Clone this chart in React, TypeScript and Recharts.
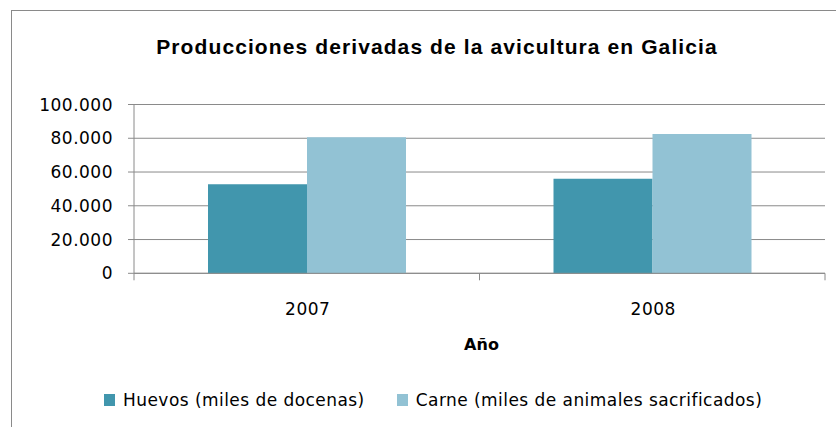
import { BarChart, Bar, XAxis, YAxis, CartesianGrid, Legend } from 'recharts';

const years = ['2007', '2008'];
const huevos = [52700, 56000];
const carne = [80600, 82500];
const yTicks = [0, 20000, 40000, 60000, 80000, 100000];
const seriesNames = ['Huevos (miles de docenas)', 'Carne (miles de animales sacrificados)'];

const data = years.map((year, i) => ({ year, huevos: huevos[i], carne: carne[i] }));

const W = 836;
const H = 427;
const M = { top: 104.5, right: 11, bottom: 73.7, left: 0 };
const Y_W = 134;
const BAND = (W - M.left - M.right - Y_W) / years.length;
const FONT = '"DejaVu Sans", sans-serif';
const AXIS = '#8a8a8a';

const fmt = (v: number) => String(v).replace(/\B(?=(\d{3})+(?!\d))/g, '.');

const XTick = (props: any) => {
  const { x, y, payload, index } = props;
  const half = BAND / 2;
  return (
    <g>
      {index === 0 && <line x1={x - half} x2={x - half} y1={y} y2={y + 7} stroke={AXIS} />}
      <line x1={x + half} x2={x + half} y1={y} y2={y + 7} stroke={AXIS} />
      <text x={x + 1} y={y + 42} textAnchor="middle" fill="#000" fontSize={17} fontFamily={FONT} letterSpacing={0.5}>
        {payload.value}
      </text>
    </g>
  );
};

const renderLegend = (props: any) => {
  const items = [...(props.payload || [])].sort(
    (a: any, b: any) => seriesNames.indexOf(a.value) - seriesNames.indexOf(b.value)
  );
  return (
    <div style={{ display: 'flex', alignItems: 'center', fontFamily: FONT, fontSize: 17, letterSpacing: 0.45, lineHeight: '20px', color: '#000' }}>
      {items.map((e: any) => (
        <div key={e.value} style={{ display: 'flex', alignItems: 'center', marginRight: 32, whiteSpace: 'nowrap' }}>
          <span style={{ display: 'inline-block', width: 11, height: 12, background: e.color, marginRight: 8 }} />
          <span>{e.value}</span>
        </div>
      ))}
    </div>
  );
};

export default function App() {
  return (
    <div style={{ position: 'absolute', left: 0, top: 0, width: W, height: H, overflow: 'hidden', background: '#fff' }}>
      <div style={{ position: 'absolute', left: 11, top: 10, width: 900, height: 600, border: `1px solid ${AXIS}`, boxSizing: 'border-box' }} />
      <div
        style={{
          position: 'absolute', left: 38, width: 798, top: 34, textAlign: 'center',
          fontFamily: '"Liberation Sans", Arial, sans-serif', fontWeight: 'bold', fontSize: 21, letterSpacing: 1.1, lineHeight: '26px',
        }}
      >
        Producciones derivadas de la avicultura en Galicia
      </div>
      <BarChart width={W} height={H} data={data} margin={M} barGap={0} barSize={99} style={{ position: 'absolute', left: 0, top: 0 }}>
        <CartesianGrid vertical={false} stroke={AXIS} />
        <XAxis
          dataKey="year"
          height={80}
          axisLine={{ stroke: AXIS }}
          tickLine={false}
          tickSize={0}
          tickMargin={0}
          tick={<XTick />}
          label={{
            content: (p: any) => {
              const vb = p.viewBox;
              return (
                <text x={vb.x + vb.width / 2 + 2} y={vb.y + 77} textAnchor="middle" fontFamily={FONT} fontWeight="bold" fontSize={16} fill="#000">
                  Año
                </text>
              );
            },
          }}
        />
        <YAxis
          width={Y_W}
          domain={[0, 100000]}
          ticks={yTicks}
          interval={0}
          tickFormatter={fmt}
          axisLine={{ stroke: AXIS }}
          tickLine={{ stroke: AXIS }}
          tickSize={6}
          tickMargin={15}
          tick={{ fill: '#000', fontSize: 17, fontFamily: FONT, letterSpacing: 0.5 }}
        />
        <Bar dataKey="huevos" name={seriesNames[0]} fill="#4196AD" isAnimationActive={false} />
        <Bar dataKey="carne" name={seriesNames[1]} fill="#92C2D4" isAnimationActive={false} />
        <Legend
          layout="horizontal"
          verticalAlign="middle"
          align="center"
          content={renderLegend}
          wrapperStyle={{ top: 390, left: 104, width: 720 }}
        />
      </BarChart>
    </div>
  );
}
